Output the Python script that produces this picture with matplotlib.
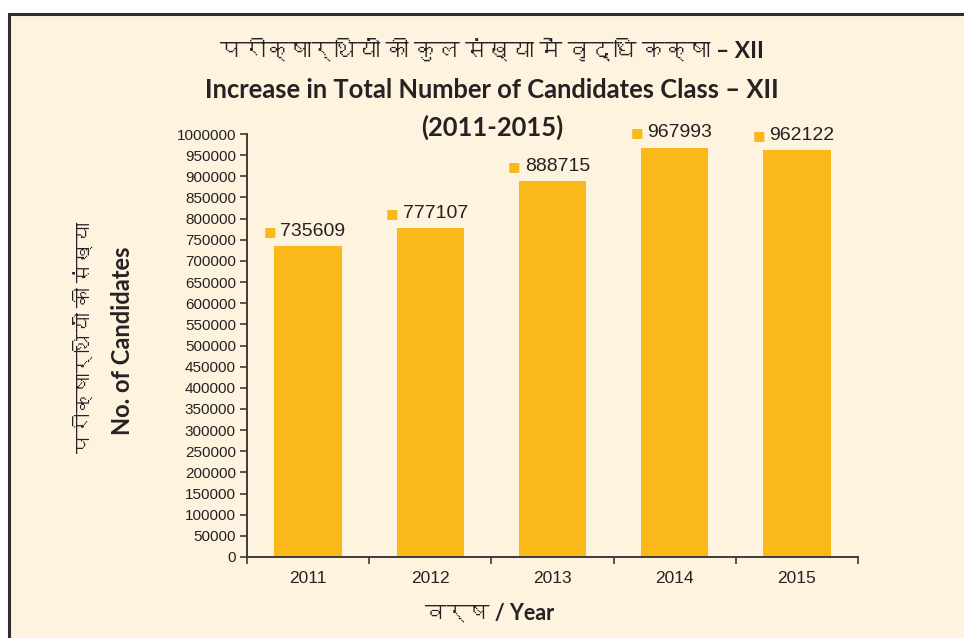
import numpy as np
import matplotlib
matplotlib.use("Agg")
import matplotlib.pyplot as plt
from matplotlib import font_manager
from matplotlib.ft2font import FT2Font
from matplotlib.patches import Rectangle

years = ["2011", "2012", "2013", "2014", "2015"]
candidates = [735609, 777107, 888715, 967993, 962122]
y_ticks = list(range(0, 1000001, 50000))

title_hi = "परीक्षार्थियों की कुल संख्या में वृद्धि कक्षा – XII"
title_en = "Increase in Total Number of Candidates Class – XII"
title_years = "(2011-2015)"
ylabel_hi = "परीक्षार्थियों की संख्या"
ylabel_en = "No. of Candidates"
xlabel_text = "वर्ष / Year"

BG = "#FDF3DE"
BAR = "#FBB819"
INK = "#262223"
AXIS = "#3F3B3A"


def find_devanagari_font():
    # first installed face that actually carries Devanagari glyphs
    for f in font_manager.fontManager.ttflist:
        try:
            cmap = FT2Font(f.fname).get_charmap()
        except Exception:
            continue
        if 0x0915 in cmap and 0x093F in cmap:
            return f.name
    return None


deva = find_devanagari_font()
mixed = ["Lato"] + ([deva] if deva else []) + ["DejaVu Sans"]
num_font = ["Liberation Sans", "DejaVu Sans"]

fig = plt.figure(figsize=(9.64, 6.38), dpi=100)
fig.patch.set_facecolor("white")
fig.patches.append(Rectangle((9 / 964, -0.05), 1.0, 1 - 14 / 638 + 0.05,
                             transform=fig.transFigure, facecolor=BG,
                             edgecolor="#2E2E2E", linewidth=2.2, zorder=-5))

ax = fig.add_axes([247 / 964, 1 - 557 / 638, (858 - 247) / 964, (557 - 134) / 638])
ax.set_facecolor("none")

x = np.arange(len(years))
ax.bar(x, candidates, width=0.55, color=BAR, zorder=2)

# value labels: small coloured square followed by the number
for xi, v in zip(x, candidates):
    ax.annotate("\u25A0", xy=(xi, v), xytext=(-27.5, 10.5), textcoords="offset points",
                ha="center", va="center", color=BAR, fontsize=9.5, family=["DejaVu Sans"])
    ax.annotate(f"{v}", xy=(xi, v), xytext=(-20, 10.5), textcoords="offset points",
                ha="left", va="center", color=INK, fontsize=14, family=num_font)

ax.set_xlim(-0.5, len(years) - 0.5)
ax.set_ylim(0, 1000000)
ax.set_yticks(y_ticks)
ax.set_yticklabels([str(t) for t in y_ticks], family=num_font, fontsize=11, color=INK)
ax.set_xticks(x)
ax.set_xticklabels(years, family=num_font, fontsize=12.5, color=INK)
ax.set_xticks(np.arange(len(years) + 1) - 0.5, minor=True)
ax.tick_params(axis="x", which="major", length=0, pad=10)
ax.tick_params(axis="x", which="minor", length=5, width=1.2, color=AXIS, direction="out")
ax.tick_params(axis="y", length=5, width=1.2, color=AXIS, direction="out", pad=3)

for side in ("top", "right"):
    ax.spines[side].set_visible(False)
for side in ("left", "bottom"):
    ax.spines[side].set_color(AXIS)
    ax.spines[side].set_linewidth(1.4)

cx = 492 / 964
fig.text(cx, 1 - 50 / 638, title_hi, ha="center", va="center", fontsize=16.5,
         fontweight="bold", color=INK, family=mixed)
fig.text(cx, 1 - 90 / 638, title_en, ha="center", va="center", fontsize=18.4,
         fontweight="bold", color=INK, family=mixed)
fig.text(cx, 1 - 127 / 638, title_years, ha="center", va="center", fontsize=18.4,
         fontweight="bold", color=INK, family=mixed)

fig.text(85 / 964, 1 - 337 / 638, ylabel_hi, ha="center", va="center", rotation=90,
         fontsize=14.5, fontweight="bold", color=INK, family=mixed)
fig.text(122 / 964, 1 - 341 / 638, ylabel_en, ha="center", va="center", rotation=90,
         fontsize=17, fontweight="bold", color=INK, family=mixed)
fig.text(490 / 964, 1 - 613 / 638, xlabel_text, ha="center", va="center",
         fontsize=15.5, fontweight="bold", color=INK, family=mixed)

fig.savefig("out.png", dpi=100, facecolor=fig.get_facecolor())
